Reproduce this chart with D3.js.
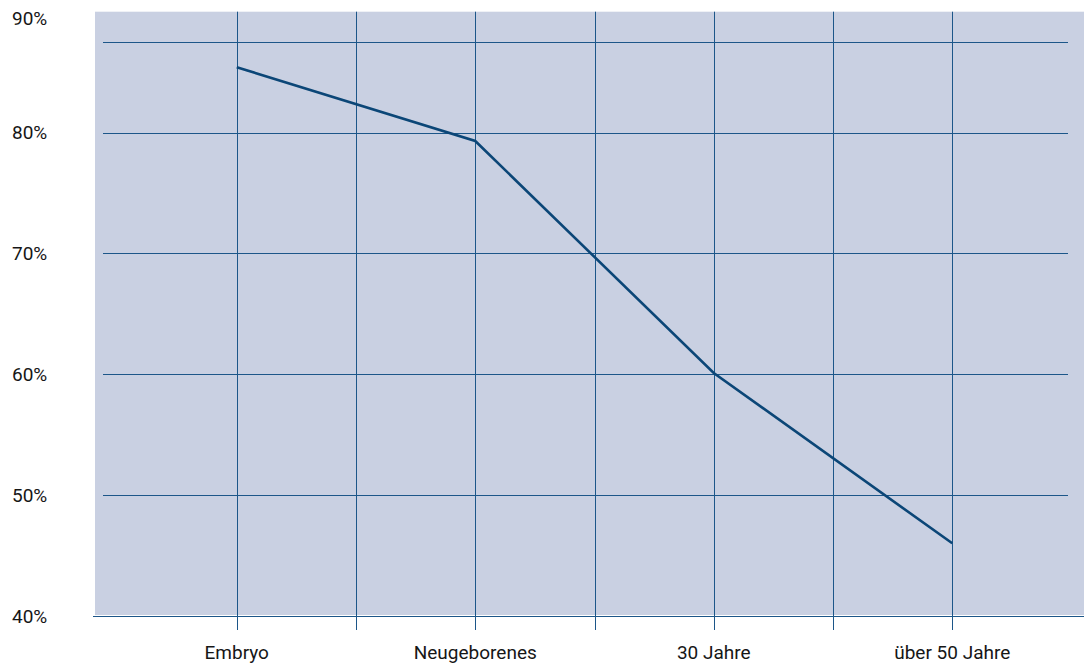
<!DOCTYPE html>
<html>
<head>
<meta charset="utf-8">
<script src="https://cdn.jsdelivr.net/npm/d3@7"></script>
<style>
  html, body { margin: 0; padding: 0; background: #fff; }
  svg { display: block; }
  text { font-family: Roboto, "Noto Sans", sans-serif; fill: #161616; }
</style>
</head>
<body>
<svg id="chart" width="1086" height="664"></svg>
<script>
// ---- data ----
const categories = ["Embryo", "Neugeborenes", "30 Jahre", "über 50 Jahre"];
const values = [85.4, 79.3, 60.1, 46.0];
const yTickValues = [40, 50, 60, 70, 80, 90];
const yTickLabels = ["40%", "50%", "60%", "70%", "80%", "90%"];
const yGridValues = [50, 60, 70, 80, 87.5];

// ---- layout ----
const W = 1086, H = 664;
const svg = d3.select("#chart");

const x = d3.scaleBand().domain(categories).range([117.5, 1071.5]).padding(0);
const y = d3.scaleLinear().domain([40, 90]).range([615.8, 11.7]);

const lineColor = "#1c5689";
const dataColor = "#0b4677";

// background
svg.append("rect")
  .attr("x", 95).attr("y", y(90))
  .attr("width", 1084 - 95).attr("height", y(40) - y(90) - 0.8)
  .attr("fill", "#c9d0e2");

// horizontal gridlines
svg.append("g").selectAll("line").data(yGridValues).join("line")
  .attr("x1", 103).attr("x2", 1068)
  .attr("y1", d => Math.round(y(d)) + 0.5).attr("y2", d => Math.round(y(d)) + 0.5)
  .attr("stroke", lineColor).attr("stroke-width", 1);

// vertical lines: category centers + band boundaries
const vx = [];
categories.forEach((c, i) => {
  vx.push(x(c) + x.bandwidth() / 2);
  if (i > 0) vx.push(x(c));
});
svg.append("g").selectAll("line").data(vx).join("line")
  .attr("x1", d => Math.round(d) + 0.5).attr("x2", d => Math.round(d) + 0.5)
  .attr("y1", y(90)).attr("y2", 630)
  .attr("stroke", lineColor).attr("stroke-width", 1);

// x axis line
svg.append("line")
  .attr("x1", 93).attr("x2", 1084)
  .attr("y1", Math.round(y(40)) + 0.5).attr("y2", Math.round(y(40)) + 0.5)
  .attr("stroke", lineColor).attr("stroke-width", 1.2);

// y labels
svg.append("g").selectAll("text").data(yTickValues).join("text")
  .attr("x", 12)
  .attr("y", d => Math.max(y(d), 18.5))
  .attr("dy", "0.36em")
  .attr("font-size", 19)
  .text((d, i) => yTickLabels[i]);

// x labels
svg.append("g").selectAll("text").data(categories).join("text")
  .attr("x", d => x(d) + x.bandwidth() / 2)
  .attr("y", 658.5)
  .attr("text-anchor", "middle")
  .attr("font-size", 19)
  .text(d => d);

// data line
const line = d3.line()
  .x((d, i) => x(categories[i]) + x.bandwidth() / 2)
  .y(d => y(d));
svg.append("path")
  .datum(values)
  .attr("d", line)
  .attr("fill", "none")
  .attr("stroke", dataColor)
  .attr("stroke-width", 2.6)
  .attr("stroke-linejoin", "miter");
</script>
</body>
</html>
